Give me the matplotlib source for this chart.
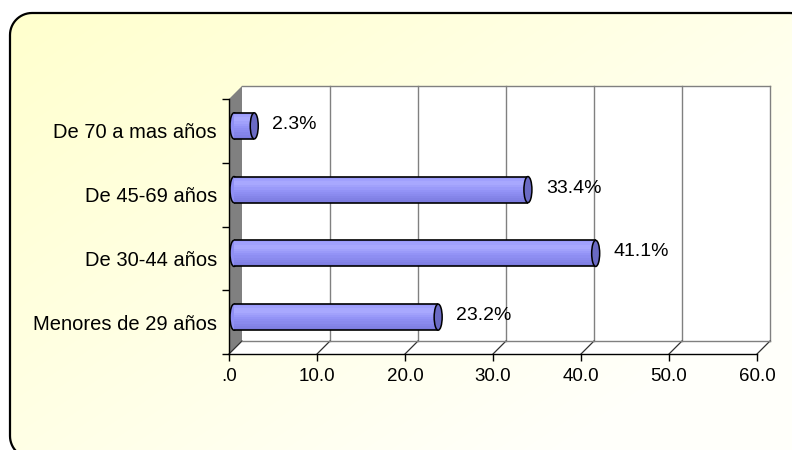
import matplotlib
matplotlib.use('Agg')
import matplotlib.pyplot as plt
import numpy as np
from matplotlib.patches import Polygon, Ellipse, PathPatch
from matplotlib.path import Path
from matplotlib.transforms import ScaledTranslation

# ---- data ----
categories = ["Menores de 29 años", "De 30-44 años", "De 45-69 años", "De 70 a mas años"]
values = [23.2, 41.1, 33.4, 2.3]
x_ticks = [0, 10, 20, 30, 40, 50, 60]
x_tick_labels = [".0", "10.0", "20.0", "30.0", "40.0", "50.0", "60.0"]

plt.rcParams['font.family'] = ['Liberation Sans', 'DejaVu Sans']

W, H = 792, 450
DPI = 100
fig = plt.figure(figsize=(W / DPI, H / DPI), dpi=DPI)

# ---- background with rounded frame ----
bg = fig.add_axes([0, 0, 1, 1])
bg.set_xlim(0, W)
bg.set_ylim(H, 0)
bg.axis('off')
yy, xx = np.mgrid[0:H, 0:W]
t = np.clip(xx / W * 0.65 + yy / H * 0.55, 0, 1)
c0 = np.array([255, 255, 204]) / 255
c1 = np.array([255, 255, 250]) / 255
img = c0 + (c1 - c0) * t[..., None]

def rounded_rect(x0, y0, x1, y1, r, n=16):
    pts = []
    corners = [(x1 - r, y0 + r, -90, 0), (x1 - r, y1 - r, 0, 90),
               (x0 + r, y1 - r, 90, 180), (x0 + r, y0 + r, 180, 270)]
    for cx, cy, a0, a1 in corners:
        for a in np.linspace(np.radians(a0), np.radians(a1), n):
            pts.append((cx + r * np.cos(a), cy + r * np.sin(a)))
    pts.append(pts[0])
    return Path(pts)

frame_path = rounded_rect(10, 13, 812, 458, 22)
frame = PathPatch(frame_path, facecolor='none', edgecolor='black', linewidth=1.6, zorder=3)
bg.add_patch(frame)
im = bg.imshow(img, extent=(0, W, H, 0), zorder=1, aspect='auto')
im.set_clip_path(frame)
bg.set_xlim(0, W)
bg.set_ylim(H, 0)

# ---- main axes (front plane) ----
L, R, T, B = 229, 757, 99, 354
D = 13  # depth offset in pixels
ax = fig.add_axes([L / W, 1 - B / H, (R - L) / W, (B - T) / H])
ax.set_xlim(0, 60)
ax.set_ylim(-0.5, len(categories) - 0.5)
ax.patch.set_alpha(0)
for s in ['top', 'right']:
    ax.spines[s].set_visible(False)
for s in ['left', 'bottom']:
    ax.spines[s].set_color('black')
    ax.spines[s].set_linewidth(1.0)

def px(x, y, dx=0, dy=0):
    X, Y = ax.transData.transform((x, y))
    return X + dx, H - (Y + dy)

y0, y1 = -0.5, len(categories) - 0.5
xmax = x_ticks[-1]
grid_c = '#808080'

# back wall
bg.add_patch(Polygon([px(0, y0, D, D), px(xmax, y0, D, D), px(xmax, y1, D, D), px(0, y1, D, D)],
                     closed=True, facecolor='white', edgecolor='none', zorder=2))
# floor
bg.add_patch(Polygon([px(0, y0), px(xmax, y0), px(xmax, y0, D, D), px(0, y0, D, D)],
                     closed=True, facecolor='white', edgecolor='none', zorder=2))
# side wall
bg.add_patch(Polygon([px(0, y0), px(0, y1), px(0, y1, D, D), px(0, y0, D, D)],
                     closed=True, facecolor='#808080', edgecolor='none', zorder=2.5))
for xv in x_ticks:
    a = px(xv, y0, D, D); b = px(xv, y1, D, D)
    if xv > 0:
        bg.plot([a[0], b[0]], [a[1], b[1]], color=grid_c, lw=1.0, zorder=2.6)
    f = px(xv, y0)
    bg.plot([f[0], a[0]], [f[1], a[1]], color='#303030', lw=0.9, zorder=2.6)
a = px(0, y1, D, D); b = px(xmax, y1, D, D)
bg.plot([a[0], b[0]], [a[1], b[1]], color=grid_c, lw=1.0, zorder=2.6)
a = px(0, y0, D, D); b = px(xmax, y0, D, D)
bg.plot([a[0], b[0]], [a[1], b[1]], color=grid_c, lw=1.0, zorder=2.6)

# ---- bars (cylinders) ----
bar_tr = ax.transData + ScaledTranslation(5 / DPI, 5 / DPI, fig.dpi_scale_trans)
ypos = np.arange(len(categories))
h = 0.41
cap_w = 8 / ((R - L) / xmax)  # 8 px in data units

for i, v in zip(ypos, values):
    ax.add_patch(Ellipse((0, i), cap_w, h, facecolor='#9090F4', edgecolor='black',
                         lw=1.1, transform=bar_tr, clip_on=False, zorder=3))

# vertical colour gradient of the cylinder, top -> bottom
n_sl = 12
shade_pos = np.array([0.0, 0.25, 0.55, 1.0])
shade_rgb = np.array([[150, 150, 250], [172, 172, 255], [146, 146, 246], [122, 122, 222]]) / 255
for k in range(n_sl):
    f = (k + 0.5) / n_sl
    col = [np.interp(f, shade_pos, shade_rgb[:, c]) for c in range(3)]
    yc = ypos + h / 2 - (k + 0.5) * h / n_sl
    ax.barh(yc, values, height=h / n_sl * 1.05, color=col, transform=bar_tr,
            clip_on=False, zorder=4, linewidth=0)

for i, v in zip(ypos, values):
    for sgn in (1, -1):
        ax.plot([0, v], [i + sgn * h / 2] * 2, color='black', lw=1.2, transform=bar_tr,
                clip_on=False, zorder=5, solid_capstyle='butt')
    ax.add_patch(Ellipse((v, i), cap_w, h, facecolor='#6A6AC4', edgecolor='black',
                         lw=1.1, transform=bar_tr, clip_on=False, zorder=6))
    ax.annotate(f"{v:.1f}%", xy=(v, i), xycoords=bar_tr, xytext=(13, 1),
                textcoords='offset points', ha='left', va='center', fontsize=14,
                color='black', zorder=7, annotation_clip=False)

# ---- ticks ----
ax.set_xticks(x_ticks)
ax.set_xticklabels(x_tick_labels, fontsize=13.5)
ax.tick_params(axis='x', direction='out', length=5, width=1, pad=5, colors='black')
ax.set_yticks(ypos)
ax.set_yticklabels(categories, fontsize=14.5)
ax.set_yticks(np.arange(y0, y1 + 0.01, 1.0), minor=True)
ax.tick_params(axis='y', which='major', length=0, pad=8.6)
ax.tick_params(axis='y', which='minor', direction='out', length=5, width=1)

fig.savefig('out.png', dpi=DPI)
